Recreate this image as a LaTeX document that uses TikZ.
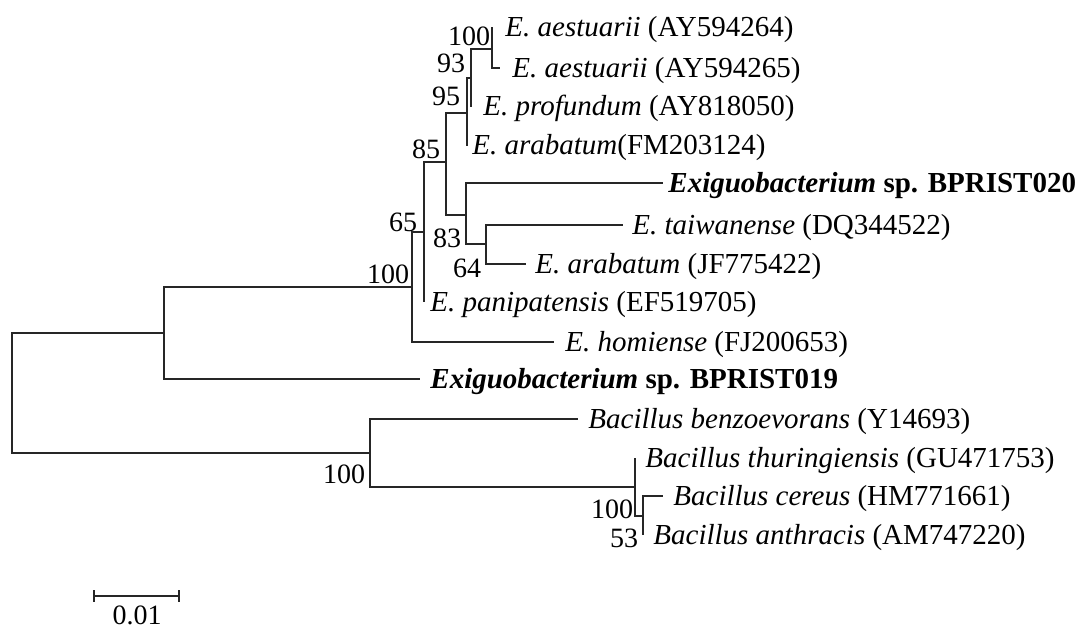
\documentclass[tikz,border=0pt]{standalone}
\usepackage{fontspec}
\setmainfont{Liberation Serif}
\begin{document}
\begin{tikzpicture}[x=0.5pt,y=-0.5pt,
  br/.style={line width=1.3pt, draw=black!85},
  leaf/.style={anchor=base west, inner sep=0pt, yshift=-4.8pt, font=\fontsize{14.5}{17}\selectfont},
  boot/.style={inner sep=0pt, font=\fontsize{14}{16}\selectfont},
]
\useasboundingbox (0,0) rectangle (1075,630);
% internal nodes
\coordinate (R) at (12,393);
\coordinate (A) at (164,333);
\coordinate (B) at (412,287);
\coordinate (C) at (424,232);
\coordinate (D) at (446,162);
\coordinate (E) at (467,113);
\coordinate (G) at (471,78);
\coordinate (H) at (492,49);
\coordinate (F) at (466,215);
\coordinate (I) at (486,244);
\coordinate (J) at (370,453);
\coordinate (K) at (635,487);
\coordinate (L) at (643,516);
% tips
\coordinate (t1) at (492,27);
\coordinate (t2) at (500,68);
\coordinate (t3) at (471,107);
\coordinate (t4) at (467,146);
\coordinate (t5) at (663,183);
\coordinate (t6) at (623,225);
\coordinate (t7) at (526,264);
\coordinate (t8) at (424,302);
\coordinate (t9) at (554,342);
\coordinate (t10) at (420,379);
\coordinate (t11) at (578,419);
\coordinate (t12) at (635,458);
\coordinate (t13) at (663,496);
\coordinate (t14) at (643,535);
% branches
\draw[br] (R) |- (A);
\draw[br] (R) |- (J);
\draw[br] (A) |- (B);
\draw[br] (A) |- (t10);
\draw[br] (B) |- (C);
\draw[br] (B) |- (t9);
\draw[br] (C) |- (D);
\draw[br] (C) -- (t8);
\draw[br] (D) |- (E);
\draw[br] (D) |- (F);
\draw[br] (E) |- (G);
\draw[br] (E) -- (t4);
\draw[br] (G) |- (H);
\draw[br] (G) -- (t3);
\draw[br] (H) -- (t1);
\draw[br] (H) |- (t2);
\draw[br] (F) |- (t5);
\draw[br] (F) |- (I);
\draw[br] (I) |- (t6);
\draw[br] (I) |- (t7);
\draw[br] (J) |- (t11);
\draw[br] (J) |- (K);
\draw[br] (K) -- (t12);
\draw[br] (K) |- (L);
\draw[br] (L) |- (t13);
\draw[br] (L) -- (t14);
% leaf labels
\node[leaf] (l1) at (505,27) {\textit{E. aestuarii} (AY594264)};
\node[leaf] (l2) at (512,68) {\textit{E. aestuarii} (AY594265)};
\node[leaf] (l3) at (483,106) {\textit{E. profundum} (AY818050)};
\node[leaf] (l4) at (472,145) {\textit{E. arabatum}(FM203124)};
\node[leaf] (l5) at (668,183) {\textbf{\textit{Exiguobacterium} sp. BPRIST020}};
\node[leaf] (l6) at (632,225) {\textit{E. taiwanense} (DQ344522)};
\node[leaf] (l7) at (535,264) {\textit{E. arabatum} (JF775422)};
\node[leaf] (l8) at (430,302) {\textit{E. panipatensis} (EF519705)};
\node[leaf] (l9) at (565,342) {\textit{E. homiense} (FJ200653)};
\node[leaf] (l10) at (430,379) {\textbf{\textit{Exiguobacterium} sp. BPRIST019}};
\node[leaf] (l11) at (588,419) {\textit{Bacillus benzoevorans} (Y14693)};
\node[leaf] (l12) at (645,458) {\textit{Bacillus thuringiensis} (GU471753)};
\node[leaf] (l13) at (673,496) {\textit{Bacillus cereus} (HM771661)};
\node[leaf] (l14) at (653,535) {\textit{Bacillus anthracis} (AM747220)};
% bootstrap values
\node[boot] (bH) at (469,36) {100};
\node[boot] (bG) at (451,63) {93};
\node[boot] (bE) at (446,96) {95};
\node[boot] (bD) at (426,149) {85};
\node[boot] (bC) at (403,222) {65};
\node[boot] (bF) at (447,238) {83};
\node[boot] (bI) at (467,268) {64};
\node[boot] (bB) at (388,274) {100};
\node[boot] (bJ) at (344,474) {100};
\node[boot] (bK) at (612,509) {100};
\node[boot] (bL) at (624,538) {53};
% scale bar
\coordinate (s1) at (94,596);
\coordinate (s2) at (179,596);
\draw[br] (s1) -- (s2);
\draw[br] ([yshift=3pt]s1) -- ([yshift=-3pt]s1);
\draw[br] ([yshift=3pt]s2) -- ([yshift=-3pt]s2);
\node[boot] (sl) at (137,615) {0.01};
\end{tikzpicture}
\end{document}
